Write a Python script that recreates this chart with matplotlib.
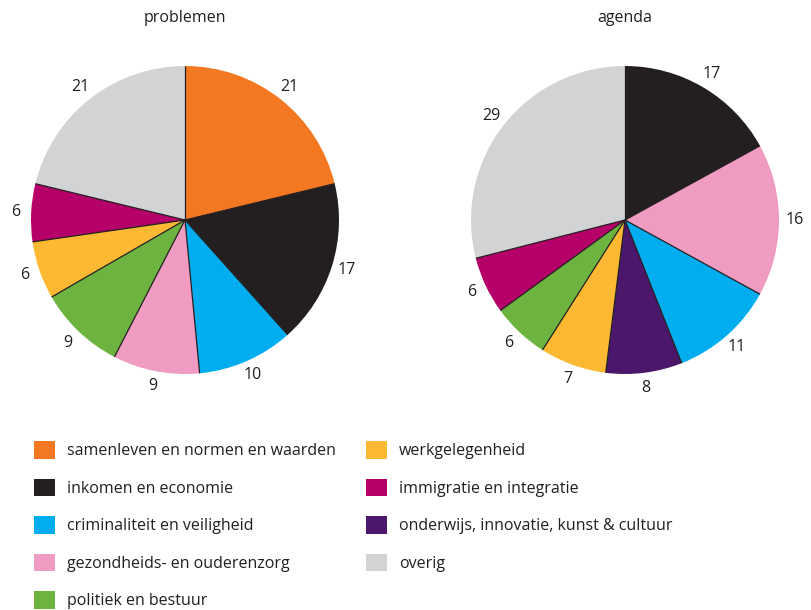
import numpy as np
import matplotlib.pyplot as plt
from matplotlib.patches import Patch

plt.rcParams['font.family'] = ['Open Sans', 'DejaVu Sans']

# categorieen en kleuren
categories = ['samenleven en normen en waarden', 'inkomen en economie',
              'criminaliteit en veiligheid', 'gezondheids- en ouderenzorg',
              'politiek en bestuur', 'werkgelegenheid', 'immigratie en integratie',
              'onderwijs, innovatie, kunst & cultuur', 'overig']
colors = ['#f47721', '#231f20', '#00aeef', '#f09bc2', '#6db33f',
          '#fdb933', '#b5006a', '#4b176b', '#d1d3d4']

# problemen (zonder onderwijs)
prob_cats = ['samenleven en normen en waarden', 'inkomen en economie',
             'criminaliteit en veiligheid', 'gezondheids- en ouderenzorg',
             'politiek en bestuur', 'werkgelegenheid', 'immigratie en integratie', 'overig']
prob_vals = [21, 17, 10, 9, 9, 6, 6, 21]

# agenda
agenda_cats = ['inkomen en economie', 'gezondheids- en ouderenzorg',
               'criminaliteit en veiligheid', 'onderwijs, innovatie, kunst & cultuur',
               'werkgelegenheid', 'politiek en bestuur', 'immigratie en integratie', 'overig']
agenda_vals = [17, 16, 11, 8, 7, 6, 6, 29]

color_map = dict(zip(categories, colors))
text_color = '#231f20'
fs = 11.5

W, H = 811, 610
fig = plt.figure(figsize=(W / 100, H / 100), dpi=100)


def draw_pie(cx, title, cats, vals):
    r = 154
    cy = 220
    ax = fig.add_axes([(cx - r) / W, (H - cy - r) / H, 2 * r / W, 2 * r / H])
    wedges, texts = ax.pie(vals, colors=[color_map[c] for c in cats],
                           labels=[str(v) for v in vals], startangle=90,
                           counterclock=False, labeldistance=1.1,
                           wedgeprops=dict(linewidth=0),
                           textprops=dict(fontsize=fs, color=text_color))
    for t in texts:
        t.set_ha('center')
        t.set_va('center')
    # dunne scheidingslijnen tussen de segmenten
    for w in wedges:
        a = np.deg2rad(w.theta1)
        ax.plot([w.center[0], w.center[0] + w.r * np.cos(a)],
                [w.center[1], w.center[1] + w.r * np.sin(a)],
                color=text_color, lw=0.9, solid_capstyle='butt')
    ax.set_xlim(-1, 1)
    ax.set_ylim(-1, 1)
    ax.set_aspect('equal')
    ax.axis('off')
    fig.text(cx / W, 1 - 18 / H, title, ha='center', va='center',
             fontsize=fs, color=text_color)


draw_pie(185, 'problemen', prob_cats, prob_vals)
draw_pie(625, 'agenda', agenda_cats, agenda_vals)

handles = [Patch(facecolor=c, edgecolor='none') for c in colors]
leg = fig.legend(handles, categories, ncol=2, loc='upper left',
                 bbox_to_anchor=(34 / W, 1 - 441 / H), frameon=False,
                 fontsize=fs, handlelength=1.31, handleheight=1.31,
                 handletextpad=0.75, labelspacing=1.22, columnspacing=1.9,
                 borderaxespad=0, borderpad=0)
for t in leg.get_texts():
    t.set_color(text_color)

fig.savefig('out.png', dpi=100)
